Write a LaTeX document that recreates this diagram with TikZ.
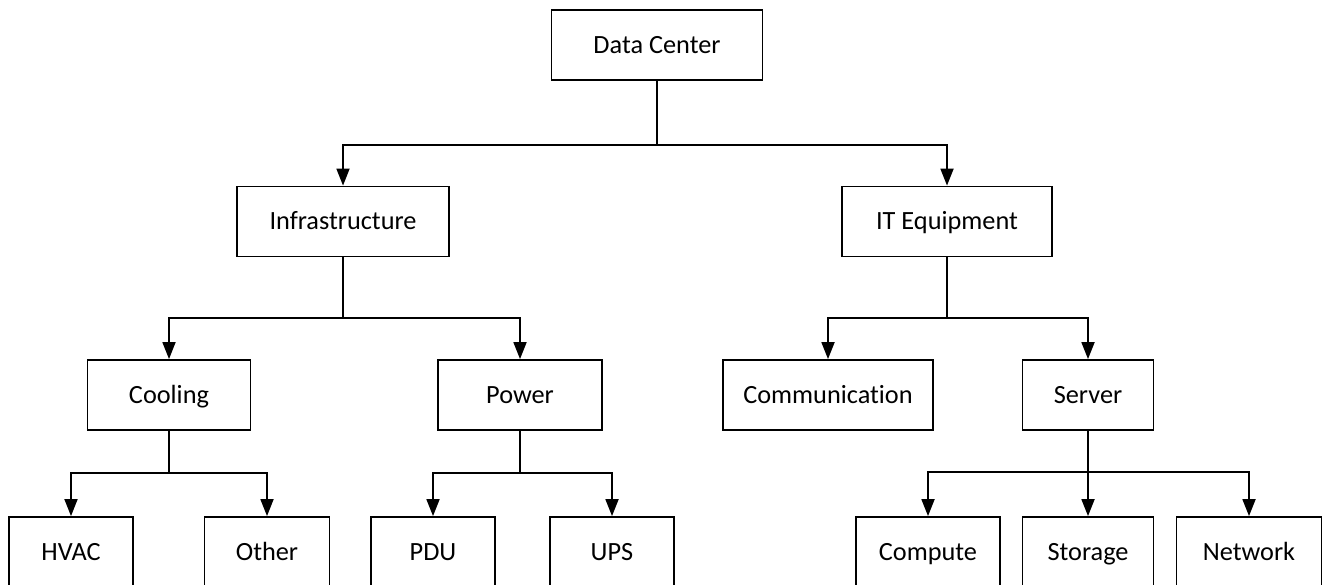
\documentclass[tikz,border=0pt]{standalone}
\usepackage{fontspec}
\setmainfont{Carlito}[Ligatures=CommonOff]
\usetikzlibrary{arrows.meta}
\begin{document}
\begin{tikzpicture}[x=1pt,y=-1pt,
  box/.style={draw=black, line width=1.8pt, fill=white, inner sep=0pt,
    minimum height=70pt, text height=17pt, text depth=0pt,
    font=\fontsize{26.3}{31}\selectfont},
  link/.style={draw=black, line width=1.8pt, line join=miter},
  arr/.style={link, -{Triangle[width=13pt,length=17pt]}}]
\useasboundingbox (0,0) rectangle (1322,585);
\clip (0,0) rectangle (1322,585);

% level 0
\node[box, minimum width=211pt] (dc) at (657,45) {Data Center};
% level 1
\node[box, minimum width=212pt] (infra) at (343,221.5) {Infrastructure};
\node[box, minimum width=210pt] (it) at (947,221.5) {IT Equipment};
% level 2
\node[box, minimum width=163pt] (cool) at (169,395) {Cooling};
\node[box, minimum width=164pt] (power) at (520,395) {Power};
\node[box, minimum width=210pt] (comm) at (828,395) {Communication};
\node[box, minimum width=131pt] (server) at (1088,395) {Server};
% level 3
\node[box, minimum width=124pt] (hvac) at (71,552) {HVAC};
\node[box, minimum width=125pt] (other) at (267,552) {Other};
\node[box, minimum width=124pt] (pdu) at (433,552) {PDU};
\node[box, minimum width=124pt] (ups) at (612,552) {UPS};
\node[box, minimum width=144pt] (compute) at (928,552) {Compute};
\node[box, minimum width=131pt] (storage) at (1088,552) {Storage};
\node[box, minimum width=145pt] (network) at (1249,552) {Network};

% branch points
\coordinate (jdc) at (657,145);
\coordinate (jinfra) at (343,318);
\coordinate (jit) at (947,318);
\coordinate (jcool) at (169,473);
\coordinate (jpower) at (520,473);
\coordinate (jserver) at (1088,472);

% connectors
\draw[link] (dc.south) -- (jdc);
\draw[arr] (jdc) -| (infra.north);
\draw[arr] (jdc) -| (it.north);

\draw[link] (infra.south) -- (jinfra);
\draw[arr] (jinfra) -| (cool.north);
\draw[arr] (jinfra) -| (power.north);

\draw[link] (it.south) -- (jit);
\draw[arr] (jit) -| (comm.north);
\draw[arr] (jit) -| (server.north);

\draw[link] (cool.south) -- (jcool);
\draw[arr] (jcool) -| (hvac.north);
\draw[arr] (jcool) -| (other.north);

\draw[link] (power.south) -- (jpower);
\draw[arr] (jpower) -| (pdu.north);
\draw[arr] (jpower) -| (ups.north);

\draw[link] (server.south) -- (jserver);
\draw[arr] (jserver) -| (compute.north);
\draw[arr] (jserver) -- (storage.north);
\draw[arr] (jserver) -| (network.north);
\end{tikzpicture}
\end{document}
